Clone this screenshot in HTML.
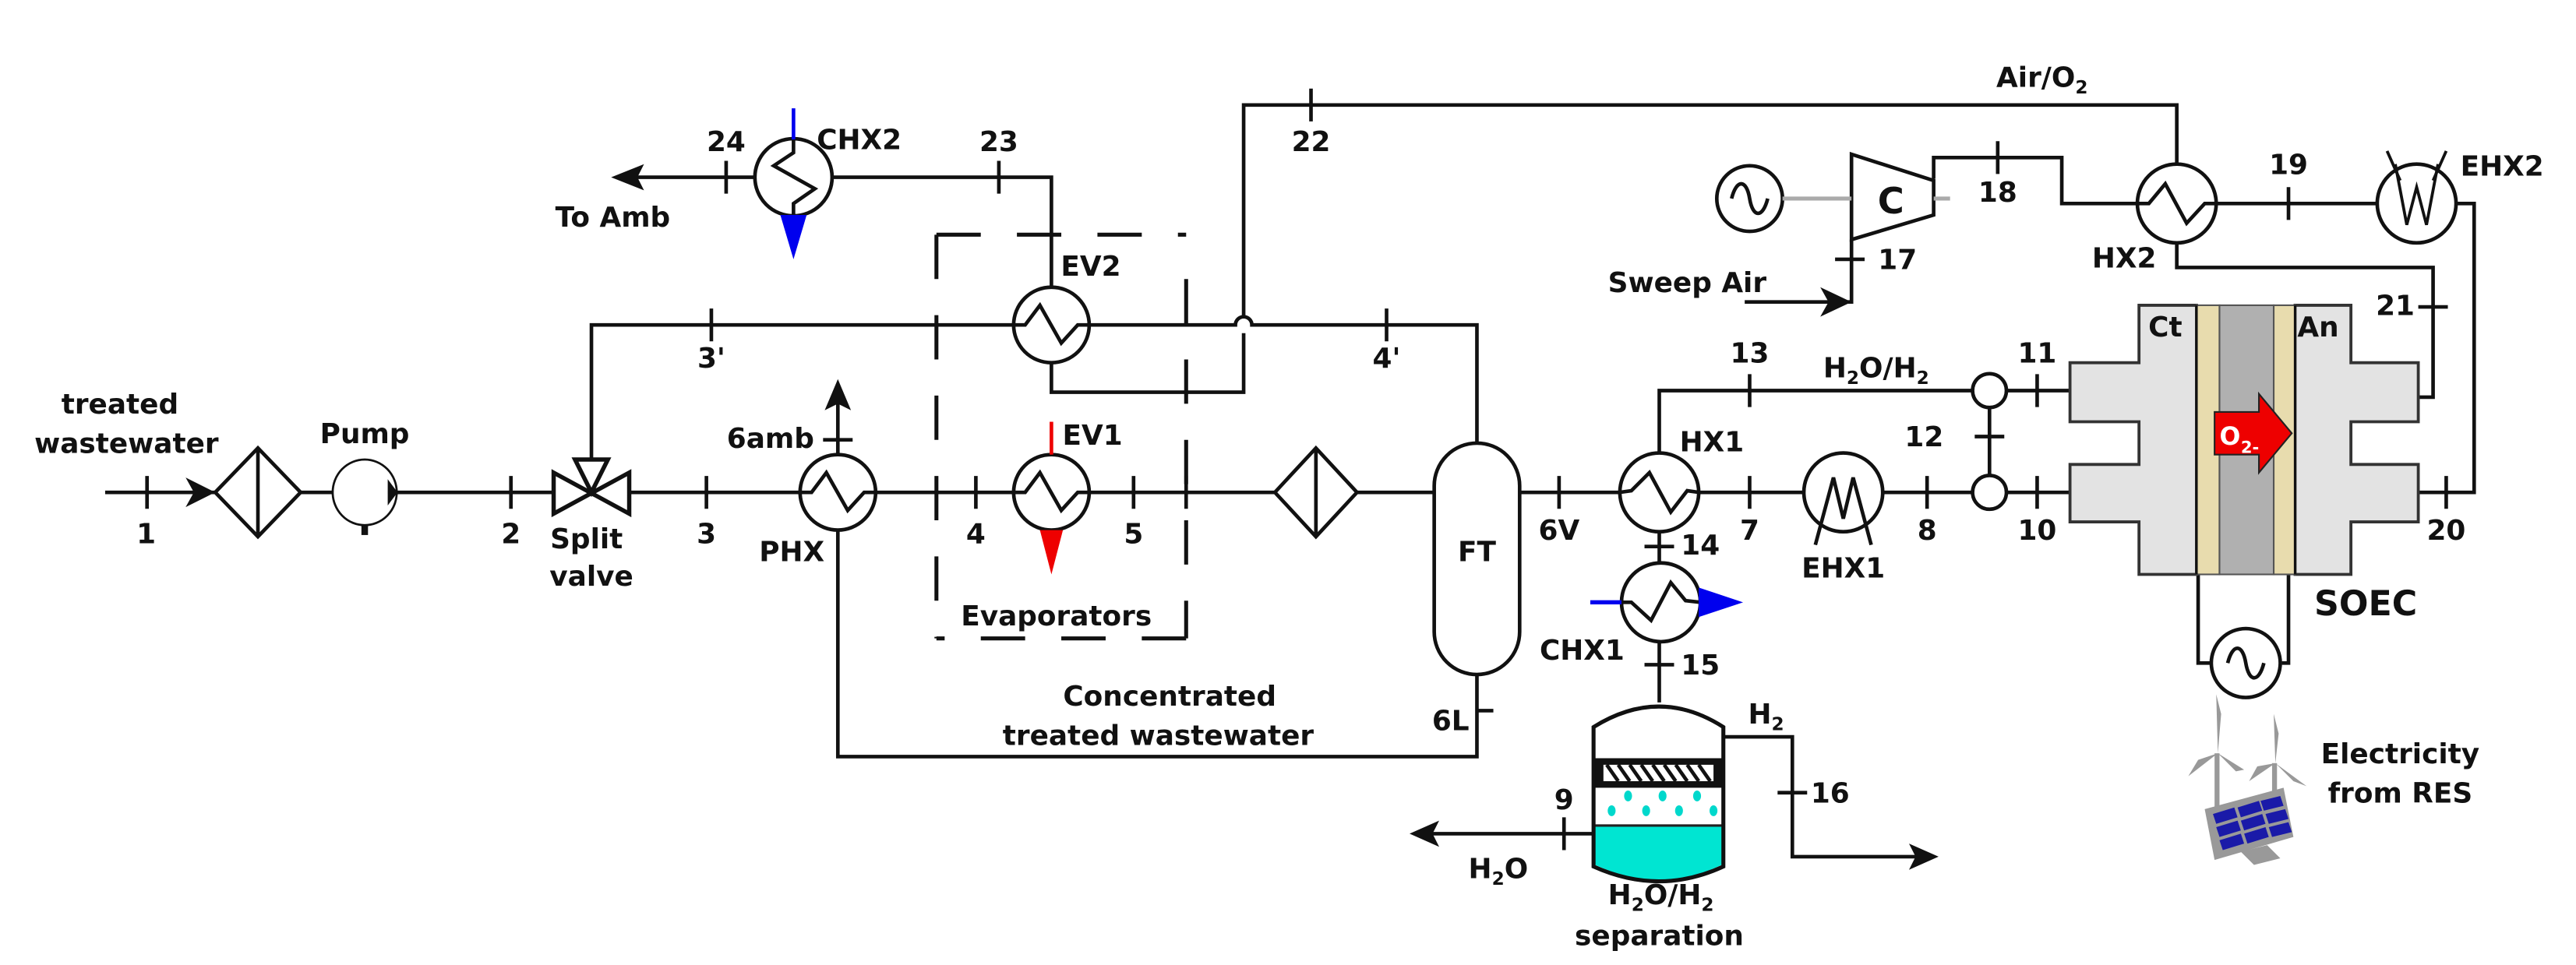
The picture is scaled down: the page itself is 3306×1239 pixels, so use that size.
<!DOCTYPE html>
<html><head><meta charset="utf-8"><style>
html,body{margin:0;padding:0;background:#fff}
svg{display:block}
text{font-family:"DejaVu Sans","Liberation Sans",sans-serif;font-weight:bold;font-size:17px;fill:#111}
</style></head><body>
<svg width="3306" height="1239" viewBox="0 0 1568 588" preserveAspectRatio="none" xmlns="http://www.w3.org/2000/svg">
<g fill="none" stroke="#111" stroke-width="2.2">
<line x1="64" y1="300" x2="131" y2="300"/>
<line x1="183" y1="300" x2="203" y2="300"/>
<line x1="242" y1="300" x2="337" y2="300"/>
<line x1="383" y1="300" x2="487" y2="300"/>
<line x1="533" y1="300" x2="617" y2="300"/>
<line x1="663" y1="300" x2="776" y2="300"/>
<line x1="826" y1="300" x2="873" y2="300"/>
<line x1="925" y1="300" x2="986" y2="300"/>
<line x1="1034" y1="300" x2="1098" y2="300"/>
<line x1="1146" y1="300" x2="1201" y2="300"/>
<line x1="1221" y1="300" x2="1260" y2="300"/>
<polyline points="360,280 360,198 617,198"/>
<path d="M663 198 H752 a5 5 0 0 1 10 0 H899 V270"/>
<polyline points="640,221 640,239 757,239 757,203"/>
<polyline points="757,193 757,64 1325,64 1325,101"/>
<polyline points="640,175 640,108 507,108"/>
<line x1="459" y1="108" x2="380" y2="108"/>
<polyline points="510,323 510,461 899,461 899,411"/>
<line x1="510" y1="277" x2="510" y2="240"/>
<polyline points="1010,276 1010,238 1201,238"/>
<line x1="1221" y1="238" x2="1260" y2="238"/>
<line x1="1211" y1="248.5" x2="1211" y2="289.5"/>
<line x1="1010" y1="324" x2="1010" y2="343"/>
<line x1="1010" y1="391" x2="1010" y2="428"/>
<polyline points="1049,449 1091,449 1091,522 1168,522"/>
<line x1="970" y1="508" x2="868" y2="508"/>
<polyline points="1177,109 1177,96 1255,96 1255,124 1301,124"/>
<line x1="1349" y1="124" x2="1447" y2="124"/>
<polyline points="1495,124 1506,124 1506,300 1472,300"/>
<polyline points="1325,148 1325,163 1481,163 1481,242 1472,242"/>
<polyline points="1127,146 1127,184 1062,184"/>
<polyline points="1338,350 1338,404 1346,404"/>
<polyline points="1393,350 1393,404 1389,404"/>
<path d="M89.5 290v20 M311 290v20 M430 290v20 M594 290v20 M690 290v20 M722 290v20 M949 290v20 M1065 290v20 M1173 290v20 M1240 290v20 M1489 290v20
M433 188v20 M844 188v20 M1065 228v20 M1240 228v20 M798 54v20 M608 98v20 M442 98v20 M1216 86v20 M1393 114v20
M501 268h18 M1001 333h18 M1001 405h18 M1202 266h18 M1117 158h18 M1472 187h18 M899 433h10 M952 498v20 M1082 483h18"/>
<path d="M131 300 L157 273 L183 300 L157 327 Z M157 273 V327"/>
<path d="M776 300 L801 273 L826 300 L801 327 Z M801 273 V327"/>
<ellipse cx="222" cy="300" rx="19.5" ry="20" stroke-width="1.3"/>
<path d="M337 288 L383 313 V288 L337 313 Z" stroke-width="2.6"/>
<path d="M350 280 H370 L360 300 Z" stroke-width="2.6"/>
<circle cx="510" cy="300" r="23"/><polyline points="487,300 494,300 503,288 516,311 526,300 533,300"/>
<circle cx="640" cy="300" r="23"/><polyline points="617,300 624,300 633,288 646,311 656,300 663,300"/>
<circle cx="640" cy="198" r="23"/><polyline points="617,198 624,198 633,186 646,209 656,198 663,198"/>
<circle cx="1010" cy="300" r="24"/><polyline points="986,300 993,299 1004,288 1017,312 1027,299 1034,300"/>
<circle cx="1011" cy="367" r="24"/><polyline points="987,367 993,367 1005,378 1017,355 1026,366 1035,367"/>
<circle cx="1325" cy="124" r="24"/><polyline points="1301,124 1308,124 1318,112 1331,136 1342,124 1349,124"/>
<circle cx="483" cy="108" r="23.5"/><polyline points="483,85 483,93 471,101 496,115 483,124 483,131"/>
<circle cx="1122" cy="300" r="24"/>
<polyline points="1105,332 1116,291 1122,316 1128,291 1139,332"/>
<circle cx="1471" cy="124" r="24"/>
<polyline points="1458,100 1465,137 1471,114 1477,137 1484,100" stroke-width="1.8"/>
<line x1="1453" y1="92" x2="1461" y2="110" stroke-width="1.8"/><line x1="1489" y1="92" x2="1481" y2="110" stroke-width="1.8"/>
<circle cx="1211" cy="238" r="10.3"/>
<circle cx="1211" cy="300" r="10.3"/>
<rect x="873" y="270" width="52" height="141" rx="26" ry="26"/>
<circle cx="1065" cy="121" r="20"/>
<path d="M1054 121 C1057 109 1063 109 1065 121 C1067 133 1073 133 1076 121"/>
<circle cx="1367" cy="404" r="21"/>
<path d="M1356 404 C1359 392 1365 392 1367 404 C1369 416 1375 416 1378 404"/>
<path d="M1127 94 L1177 110 V131 L1127 146 Z"/>
<g stroke-width="2.4" stroke-dasharray="27 22">
<line x1="570" y1="143" x2="722" y2="143"/>
<line x1="570" y1="143" x2="570" y2="389"/>
<line x1="722" y1="170" x2="722" y2="389"/>
<line x1="722" y1="389" x2="570" y2="389"/>
</g>
</g>
<line x1="1085" y1="121" x2="1127" y2="121" stroke="#aaa" stroke-width="2.4"/>
<line x1="1177" y1="121" x2="1187" y2="121" stroke="#aaa" stroke-width="2.4"/>
<g fill="#111">
<path d="M131 300 L113 291 L118 300 L113 309 Z"/>
<path d="M236 292 L242 300 L236 308 Z"/>
<path d="M372 108 L392 100 L388 108 L392 116 Z"/>
<path d="M510 231 L502 250 L510 246 L518 250 Z"/>
<path d="M858 508 L876 500 L872 508 L876 516 Z"/>
<path d="M1180 522 L1162 514 L1166 522 L1162 530 Z"/>
<path d="M1127 184 L1108 175 L1113 184 L1108 193 Z"/>
<rect x="220" y="320" width="4" height="6"/>
</g>
<line x1="483" y1="66" x2="483" y2="85" stroke="#0000ee" stroke-width="2.2"/>
<path d="M475 131 L491 131 L483 158 Z" fill="#0000ee"/>
<line x1="640" y1="257" x2="640" y2="277" stroke="#ee0000" stroke-width="2.2"/>
<path d="M633 323 L647 323 L640 350 Z" fill="#ee0000"/>
<line x1="968" y1="367" x2="987" y2="367" stroke="#0000ee" stroke-width="2.6"/>
<path d="M1034 358 L1061 367 L1034 376 Z" fill="#0000ee"/>
<path d="M970 528 V443 Q1010 418 1049 443 V528 Q1010 546 970 528 Z" fill="#fff" stroke="#111" stroke-width="2.2"/>
<path d="M971 503 H1048 V527 Q1010 545 971 527 Z" fill="#00e5d2"/>
<line x1="970" y1="503" x2="1049" y2="503" stroke="#222" stroke-width="1.5"/>
<rect x="970" y="462" width="79" height="18" fill="#111"/>
<rect x="976" y="466" width="67" height="10" fill="#fff"/>
<g stroke="#111" stroke-width="2.2">
<path d="M978 466 l7 10 M985 466 l7 10 M992 466 l7 10 M999 466 l7 10 M1006 466 l7 10 M1013 466 l7 10 M1020 466 l7 10 M1027 466 l7 10 M1034 466 l7 10"/>
</g>
<path d="M970 528 V443 Q1010 418 1049 443 V528 Q1010 546 970 528 Z" fill="none" stroke="#111" stroke-width="2.4"/>
<g fill="#00d8cc">
<ellipse cx="991" cy="485" rx="2.4" ry="3.3"/><ellipse cx="1012" cy="485" rx="2.4" ry="3.3"/><ellipse cx="1033" cy="485" rx="2.4" ry="3.3"/>
<ellipse cx="981" cy="494" rx="2.4" ry="3.3"/><ellipse cx="1002" cy="494" rx="2.4" ry="3.3"/><ellipse cx="1022" cy="494" rx="2.4" ry="3.3"/><ellipse cx="1043" cy="494" rx="2.4" ry="3.3"/>
</g>
<path d="M1302 186 H1337 V350 H1302 V318 H1260 V283 H1302 V257 H1260 V221 H1302 Z" fill="#e3e3e3" stroke="#333" stroke-width="1.8"/>
<path d="M1397 186 H1431 V221 H1472 V257 H1431 V283 H1472 V318 H1431 V350 H1397 Z" fill="#e3e3e3" stroke="#333" stroke-width="1.8"/>
<rect x="1337" y="186" width="14" height="164" fill="#e8dcae" stroke="#555" stroke-width="1"/>
<rect x="1351" y="186" width="33" height="164" fill="#b0b0b0" stroke="#555" stroke-width="1"/>
<rect x="1384" y="186" width="13" height="164" fill="#e8dcae" stroke="#555" stroke-width="1"/>
<line x1="1337" y1="186" x2="1337" y2="350" stroke="#111" stroke-width="1.5"/>
<line x1="1397" y1="186" x2="1397" y2="350" stroke="#111" stroke-width="1.5"/>
<path d="M1348 251 H1375 V240 L1395 264 L1375 288 V277 H1348 Z" fill="#ee0000" stroke="#222" stroke-width="1"/>
<text x="1351" y="271" style="font-size:15px;fill:#fff">O</text>
<text x="1364" y="276" style="font-size:10px;fill:#fff">2-</text>
<g fill="#999">
<rect x="1348" y="459" width="3" height="40"/>
<rect x="1383" y="465" width="3" height="32"/>
<path d="M1350 459 l-1 -36 l3 12 z"/><path d="M1350 459 l-18 14 l6 -10 z"/><path d="M1350 459 l16 10 l-5 1 z"/>
<path d="M1385 465 l-1 -30 l3 12 z"/><path d="M1385 465 l-16 11 l5 -9 z"/><path d="M1385 465 l19 14 l-8 -3 z"/>
<path d="M1342 493 L1390 480 L1396 510 L1348 524 Z"/>
<path d="M1364 519 L1380 515 L1388 523 L1372 527 Z"/>
</g>
<g fill="#1a1aa8">
<path d="M1347 496 L1360 492 L1362 498 L1349 502 Z"/><path d="M1362 492 L1375 488 L1377 494 L1364 498 Z"/><path d="M1376 488 L1388 485 L1390 491 L1378 494 Z"/>
<path d="M1349 504 L1362 500 L1364 506 L1351 510 Z"/><path d="M1364 500 L1377 496 L1379 502 L1366 506 Z"/><path d="M1379 496 L1391 493 L1393 499 L1381 502 Z"/>
<path d="M1351 512 L1364 508 L1366 514 L1353 518 Z"/><path d="M1366 508 L1379 504 L1381 510 L1368 514 Z"/><path d="M1381 504 L1393 501 L1395 507 L1383 510 Z"/>
</g>
<g text-anchor="middle">
<text x="73" y="252">treated</text>
<text x="77" y="276">wastewater</text>
<text x="222" y="270">Pump</text>
<text x="89" y="331">1</text>
<text x="311" y="331">2</text>
<text x="357" y="334">Split</text>
<text x="360" y="357">valve</text>
<text x="430" y="331">3</text>
<text x="433" y="224">3'</text>
<text x="482" y="342">PHX</text>
<text x="469" y="273">6amb</text>
<text x="594" y="331">4</text>
<text x="690" y="331">5</text>
<text x="844" y="224">4'</text>
<text x="643" y="381">Evaporators</text>
<text x="712" y="430">Concentrated</text>
<text x="705" y="454">treated wastewater</text>
<text x="899" y="342">FT</text>
<text x="883" y="445">6L</text>
<text x="949" y="329">6V</text>
<text x="1042" y="275">HX1</text>
<text x="1065" y="329">7</text>
<text x="1122" y="352">EHX1</text>
<text x="1173" y="329">8</text>
<text x="1065" y="221">13</text>
<text x="1240" y="221">11</text>
<text x="1240" y="329">10</text>
<text x="1489" y="329">20</text>
<text x="1035" y="338">14</text>
<text x="1035" y="411">15</text>
<text x="963" y="402">CHX1</text>
<text x="952" y="493">9</text>
<text x="912" y="535">H<tspan style="font-size:11px" dy="4">2</tspan><tspan dy="-4">O</tspan></text>
<text x="1011" y="551">H<tspan style="font-size:11px" dy="4">2</tspan><tspan dy="-4">O/H</tspan><tspan style="font-size:11px" dy="4">2</tspan></text>
<text x="1010" y="576">separation</text>
<text x="1075" y="441">H<tspan style="font-size:11px" dy="4">2</tspan></text>
<text x="1114" y="489">16</text>
<text x="1142" y="230">H<tspan style="font-size:11px" dy="4">2</tspan><tspan dy="-4">O/H</tspan><tspan style="font-size:11px" dy="4">2</tspan></text>
<text x="1183" y="272" text-anchor="end">12</text>
<text x="442" y="92">24</text>
<text x="608" y="92">23</text>
<text x="523" y="91">CHX2</text>
<text x="373" y="138">To Amb</text>
<text x="664" y="168">EV2</text>
<text x="665" y="271">EV1</text>
<text x="798" y="92">22</text>
<text x="1243" y="53">Air/O<tspan style="font-size:11px" dy="4">2</tspan></text>
<text x="1151" y="130" style="font-size:22px">C</text>
<text x="1216" y="123">18</text>
<text x="1155" y="164">17</text>
<text x="1027" y="178">Sweep Air</text>
<text x="1393" y="106">19</text>
<text x="1293" y="163">HX2</text>
<text x="1523" y="107">EHX2</text>
<text x="1458" y="192">21</text>
<text x="1318" y="205">Ct</text>
<text x="1411" y="205">An</text>
<text x="1440" y="375" style="font-size:21px">SOEC</text>
<text x="1461" y="465">Electricity</text>
<text x="1461" y="489">from RES</text>
</g>
</svg>
</body></html>
